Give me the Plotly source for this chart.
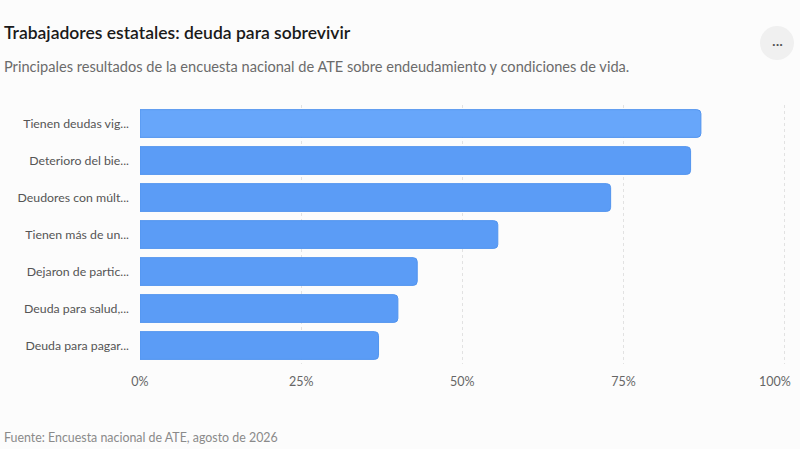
import plotly.graph_objects as go

# DATA
categorias = [
    "Tienen deudas vig...",
    "Deterioro del bie...",
    "Deudores con múlt...",
    "Tienen más de un...",
    "Dejaron de partic...",
    "Deuda para salud,...",
    "Deuda para pagar...",
]
porcentajes = [87, 85.4, 73, 55.5, 43, 40, 37]
tick_vals = [0, 25, 50, 75, 100]
tick_text = ["0%", "25%", "50%", "75%", "100%"]

titulo = "Trabajadores estatales: deuda para sobrevivir"
subtitulo = "Principales resultados de la encuesta nacional de ATE sobre endeudamiento y condiciones de vida."
fuente = "Fuente: Encuesta nacional de ATE, agosto de 2026"

# layout in pixels
W, H = 800, 449
ML, MR, MT, MB = 140, 14, 105, 85
PW = W - ML - MR
PH = H - MT - MB


def px_x(x):
    # pixel x -> paper x
    return (x - ML) / PW


def px_y(y):
    # pixel y (from top) -> paper y
    return (H - MB - y) / PH


FONT = "Segoe UI, Lato, Noto Sans, sans-serif"
TICKFONT = dict(size=12.5, color="#666666", family=FONT)

# first bar is highlighted (lighter)
colores = ["#67a6fa"] + ["#5b9cf6"] * (len(categorias) - 1)

fig = go.Figure()
fig.add_trace(go.Bar(
    x=porcentajes,
    y=categorias,
    orientation="h",
    width=0.75,
    marker=dict(color=colores, line=dict(color="#5294ee", width=1), cornerradius=4),
    hoverinfo="skip",
))

fig.update_layout(
    width=W, height=H,
    margin=dict(l=ML, r=MR, t=MT, b=MB),
    paper_bgcolor="#fcfcfc",
    plot_bgcolor="#fcfcfc",
    font=dict(family=FONT, color="#555555", size=12),
    showlegend=False,
    xaxis=dict(
        range=[0, 100.2],
        tickvals=tick_vals,
        # the last label is drawn as an annotation, pulled inward so it fits
        ticktext=tick_text[:-1] + [""],
        showgrid=True,
        gridcolor="#e2e2e2",
        griddash="dot",
        gridwidth=1,
        zeroline=False,
        showline=False,
        ticks="",
        ticklabelstandoff=8,
        automargin=False,
        tickfont=TICKFONT,
        fixedrange=True,
    ),
    yaxis=dict(
        autorange="reversed",
        showgrid=False,
        zeroline=False,
        showline=False,
        ticks="",
        ticklabelstandoff=10,
        automargin=False,
        tickfont=dict(size=12.3, color="#555555"),
        fixedrange=True,
    ),
)

fig.add_annotation(text=tick_text[-1], xref="x", yref="paper", x=tick_vals[-1], y=0,
                   xanchor="center", yanchor="top", xshift=-10, yshift=-8,
                   showarrow=False, font=TICKFONT)

# title, subtitle and source
fig.add_annotation(text=titulo, xref="paper", yref="paper", x=px_x(2), y=px_y(33),
                   xanchor="left", yanchor="middle", showarrow=False,
                   font=dict(size=17.5, color="#1a1a1a", family=FONT, weight=600))
fig.add_annotation(text=subtitulo, xref="paper", yref="paper", x=px_x(2), y=px_y(66),
                   xanchor="left", yanchor="middle", showarrow=False,
                   font=dict(size=14.6, color="#6b6b6b", family=FONT))
fig.add_annotation(text=fuente, xref="paper", yref="paper", x=px_x(2), y=px_y(437),
                   xanchor="left", yanchor="middle", showarrow=False,
                   font=dict(size=12.4, color="#8a8a8a", family=FONT))

# the "..." menu button
fig.add_shape(type="circle", xref="paper", yref="paper",
              x0=px_x(760), x1=px_x(794), y0=px_y(60), y1=px_y(26),
              fillcolor="#f0f0f0", line=dict(width=0), layer="below")
fig.add_annotation(text="···", xref="paper", yref="paper", x=px_x(777), y=px_y(43),
                   xanchor="center", yanchor="middle", showarrow=False,
                   font=dict(size=14, color="#555555", family=FONT))

# drop the page margin so the figure sits at the top-left corner
fig.write_html("out.html", config={"displayModeBar": False},
               post_script="document.body.style.margin='0';")
